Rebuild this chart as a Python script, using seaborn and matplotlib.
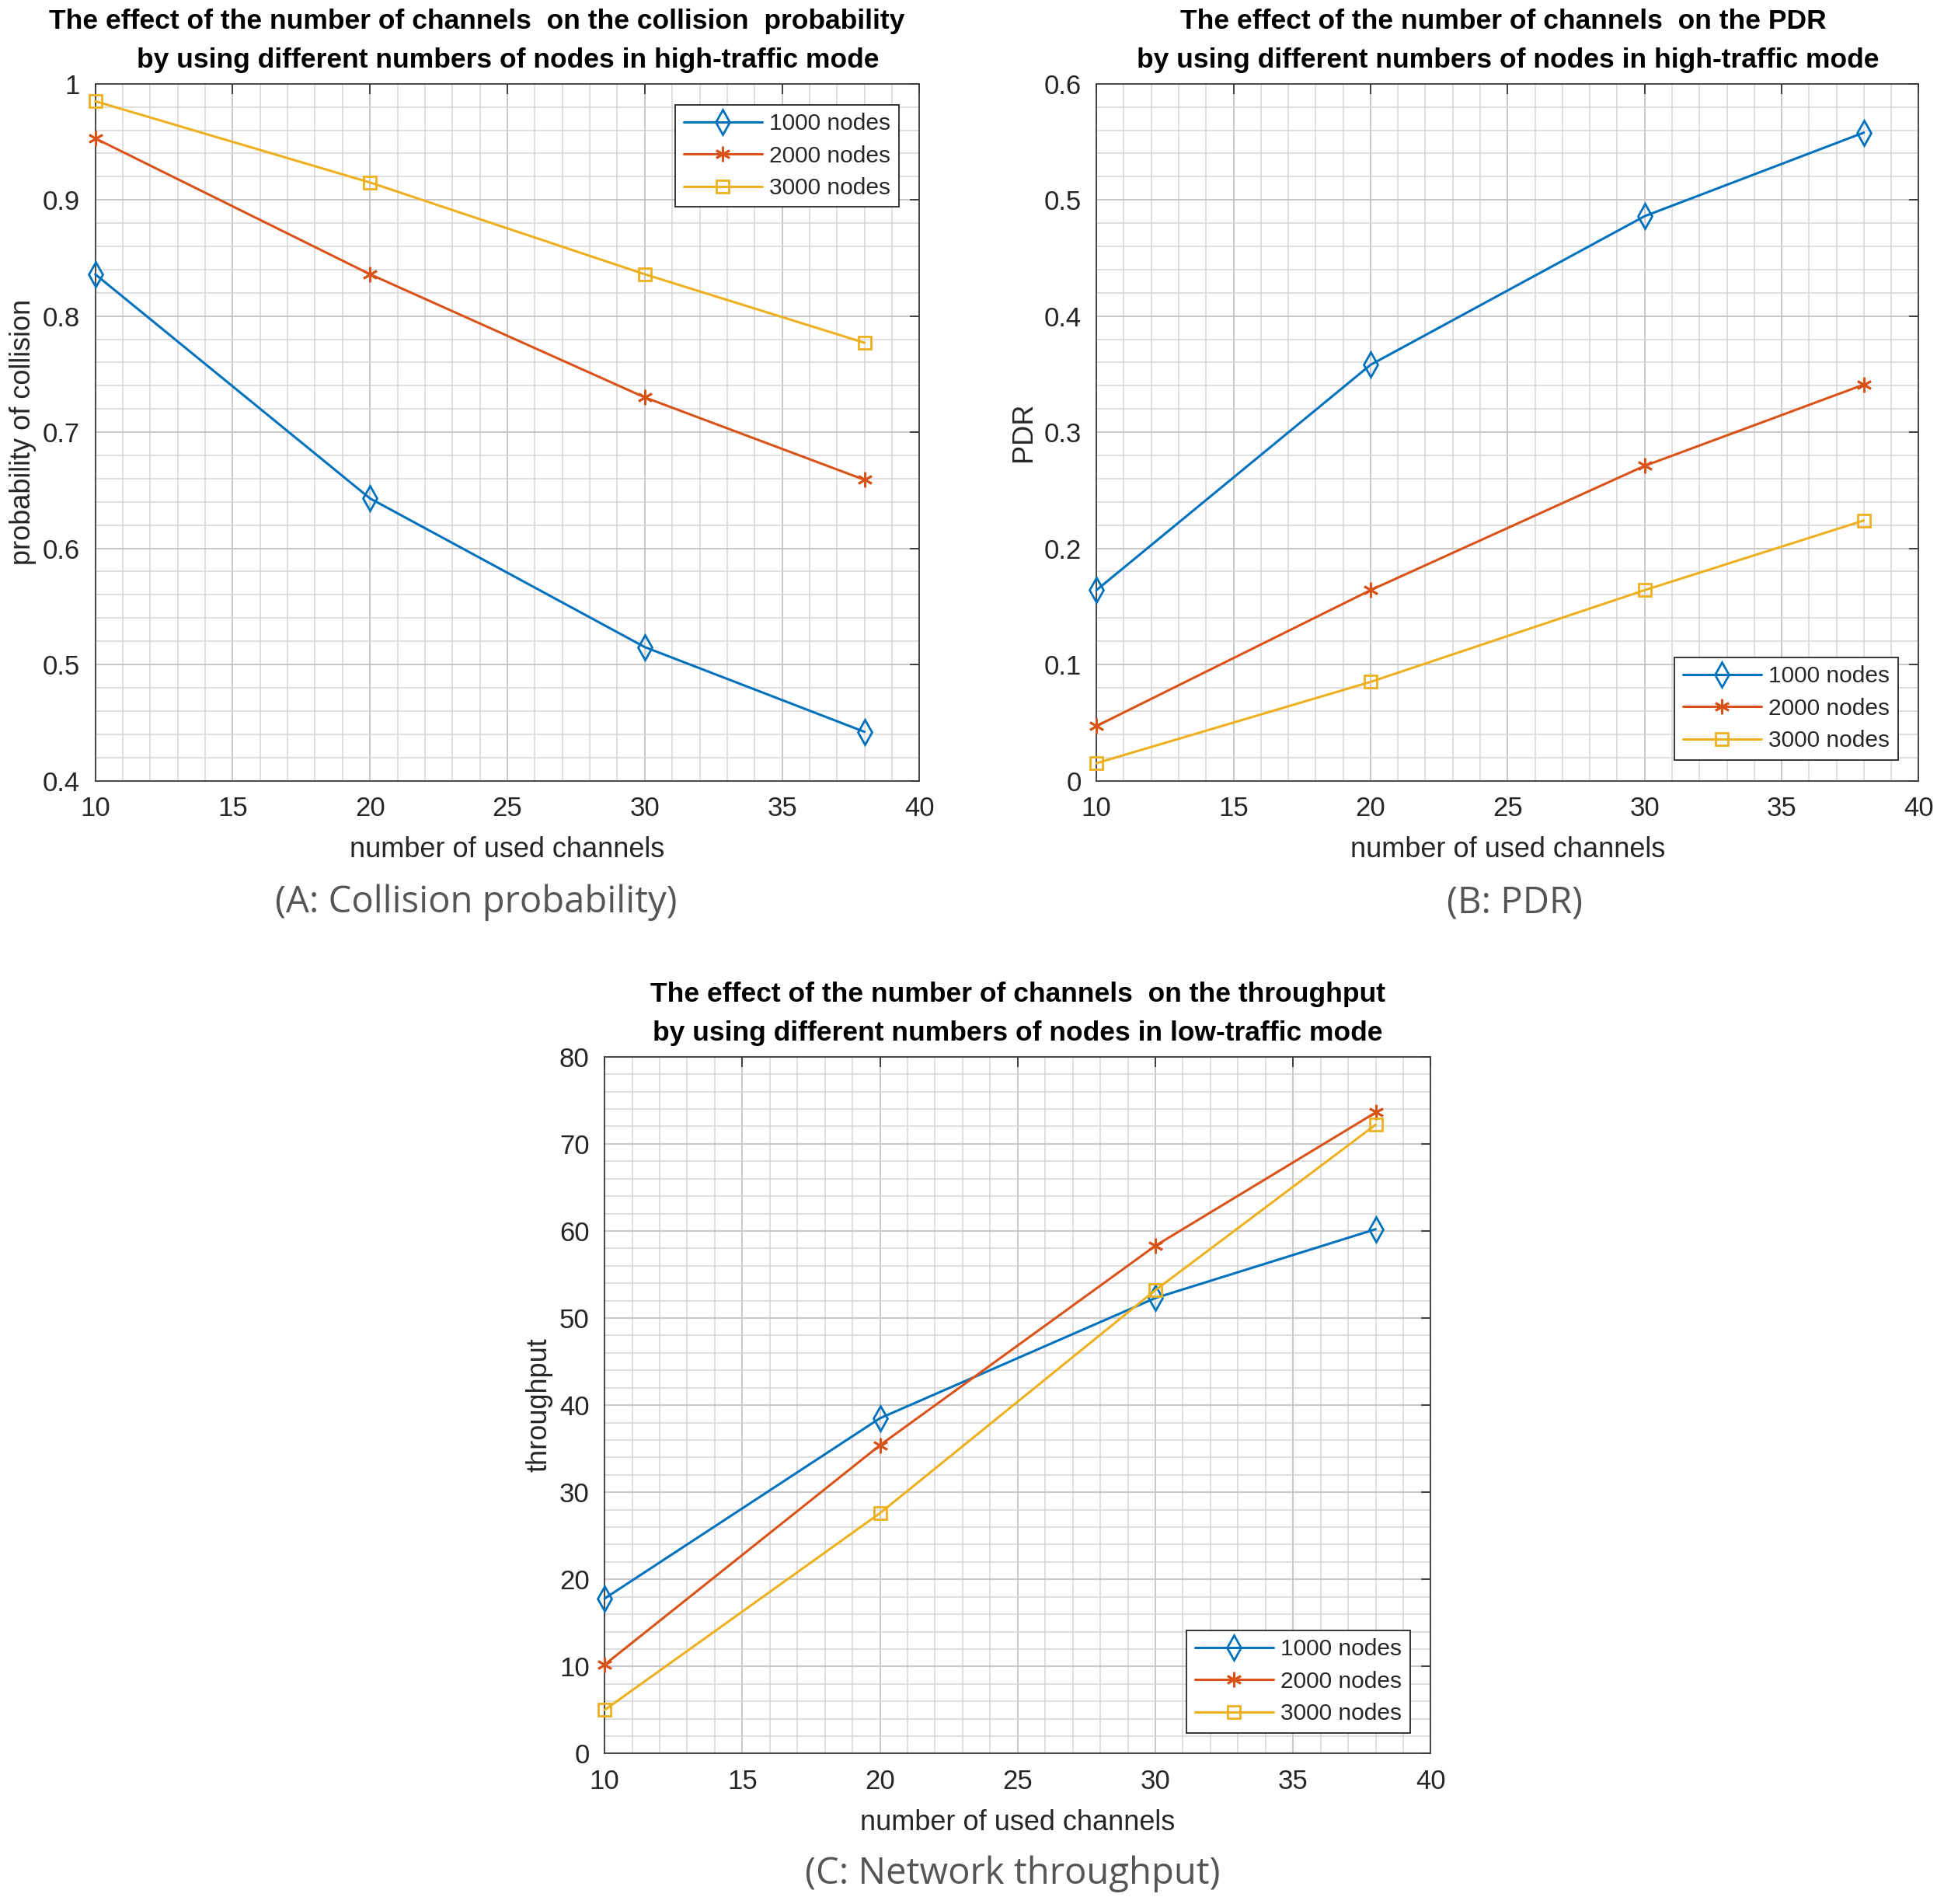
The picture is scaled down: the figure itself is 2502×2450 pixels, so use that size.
import numpy as np
import pandas as pd
import matplotlib.pyplot as plt
import seaborn as sns
from matplotlib.ticker import MultipleLocator

channels = [10, 20, 30, 38]
node_labels = ["1000 nodes", "2000 nodes", "3000 nodes"]

# (A) collision probability
coll_1000 = [0.836, 0.643, 0.515, 0.442]
coll_2000 = [0.953, 0.836, 0.730, 0.659]
coll_3000 = [0.985, 0.915, 0.836, 0.777]

# (B) PDR
pdr_1000 = [0.164, 0.358, 0.486, 0.558]
pdr_2000 = [0.047, 0.164, 0.271, 0.341]
pdr_3000 = [0.015, 0.085, 0.164, 0.224]

# (C) throughput
thr_1000 = [17.8, 38.5, 52.3, 60.2]
thr_2000 = [10.2, 35.4, 58.3, 73.6]
thr_3000 = [5.0, 27.6, 53.2, 72.2]

colors = ["#0072BD", "#D95319", "#EDB120"]
markers = ["d", (6, 2, 0), "s"]
msizes = [16, 14, 12]

sns.set_style("white")
plt.rcParams["font.family"] = ["Liberation Sans", "DejaVu Sans"]


def make_df(series):
    rows = []
    for lab, vals in zip(node_labels, series):
        for c, v in zip(channels, vals):
            rows.append({"channels": c, "value": v, "nodes": lab})
    return pd.DataFrame(rows)


def draw(ax, series, ylim, ymajor, yminor, ylabel, titles, title_xs, legend_loc,
         caption, cap_x, cap_y):
    df = make_df(series)
    sns.lineplot(data=df, x="channels", y="value", hue="nodes",
                 palette=dict(zip(node_labels, colors)),
                 legend=False, ax=ax, lw=2.2)
    lines = ax.get_lines()[:3]
    # matlab style open markers (seaborn won't mix filled and line-art markers)
    for ln, col, mk, ms in zip(lines, colors, markers, msizes):
        ln.set_marker(mk)
        ln.set_markerfacecolor("none")
        ln.set_markeredgecolor(col)
        ln.set_markeredgewidth(2.0)
        ln.set_markersize(ms)
        ln.set_zorder(3)
        ln.set_clip_on(False)

    ax.set_xlim(10, 40)
    ax.set_ylim(*ylim)
    ax.xaxis.set_major_locator(MultipleLocator(5))
    ax.xaxis.set_minor_locator(MultipleLocator(1))
    ax.yaxis.set_major_locator(MultipleLocator(ymajor))
    ax.yaxis.set_minor_locator(MultipleLocator(yminor))
    ax.grid(True, which="major", color="#c4c4c4", lw=1.3)
    ax.grid(True, which="minor", color="#d6d6d6", lw=1.1)
    ax.set_axisbelow(True)
    ax.tick_params(which="major", direction="in", length=9, width=1.2,
                   top=True, right=True, labelsize=25, colors="#262626", pad=14)
    ax.tick_params(which="minor", length=0)
    for sp in ax.spines.values():
        sp.set_color("#3a3a3a")
        sp.set_linewidth(1.3)
    ax.set_xlabel("number of used channels", fontsize=26, color="#262626", labelpad=14)
    ax.set_ylabel(ylabel, fontsize=26, color="#262626", labelpad=6)
    # two title lines, each centred on its own like matlab does
    for txt, tx, ty in zip(titles, title_xs, [1.089, 1.034]):
        ax.text(tx, ty, txt, transform=ax.transAxes, fontsize=25.5,
                fontweight="bold", color="black", ha="center", va="center")
    leg = ax.legend(lines, node_labels, loc=legend_loc, fontsize=21.5,
                    handlelength=3.4, handletextpad=0.3, fancybox=False, framealpha=1,
                    edgecolor="#262626", borderaxespad=0.9, labelspacing=0.45,
                    borderpad=0.35)
    leg.get_frame().set_linewidth(1.3)
    ax.figure.text(cap_x, cap_y, caption, fontsize=34, color="#555555",
                   ha="center", va="center", family=["Open Sans", "DejaVu Sans"])


fig = plt.figure(figsize=(25.02, 24.5), dpi=100)
ax_a = fig.add_axes([0.049, 0.590, 0.424, 0.366])
ax_b = fig.add_axes([0.564, 0.590, 0.423, 0.366])
ax_c = fig.add_axes([0.311, 0.079, 0.425, 0.366])

draw(ax_a, [coll_1000, coll_2000, coll_3000], (0.4, 1.0), 0.1, 0.02,
     "probability of collision",
     ["The effect of the number of channels  on the collision  probability",
      "by using different numbers of nodes in high-traffic mode"], [0.463, 0.501],
     "upper right", "(A: Collision probability)", 0.245, 0.526)
draw(ax_b, [pdr_1000, pdr_2000, pdr_3000], (0.0, 0.6), 0.1, 0.02, "PDR",
     ["The effect of the number of channels  on the PDR",
      "by using different numbers of nodes in high-traffic mode"], [0.495, 0.5],
     "lower right", "(B: PDR)", 0.779, 0.526)
draw(ax_c, [thr_1000, thr_2000, thr_3000], (0, 80), 10, 2, "throughput",
     ["The effect of the number of channels  on the throughput",
      "by using different numbers of nodes in low-traffic mode"], [0.5, 0.5],
     "lower right", "(C: Network throughput)", 0.521, 0.016)

ax_a.yaxis.set_major_formatter(plt.FuncFormatter(lambda v, p: f"{v:g}"))
ax_b.yaxis.set_major_formatter(plt.FuncFormatter(lambda v, p: f"{v:g}"))

fig.savefig("out.png", dpi=100)
